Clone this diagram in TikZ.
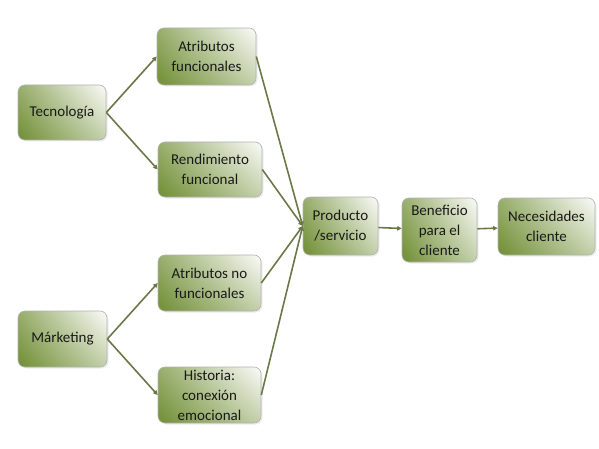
\documentclass[tikz,border=0pt]{standalone}
\usepackage{fontspec}
\setmainfont{Carlito}
\usetikzlibrary{arrows.meta,shadows,shadings}
\definecolor{olive}{RGB}{112,142,52}
\definecolor{linkcol}{RGB}{108,120,72}
\tikzset{
  box/.style = {rounded corners=7pt, draw=black!30, line width=0.6pt,
    lower left=olive, upper left=olive!72!white,
    lower right=olive!42!white, upper right=olive!3!white,
    drop shadow={opacity=0.15, shadow xshift=1.5pt, shadow yshift=-1.5pt},
    align=center, inner sep=2pt, text=black!90,
    font=\fontsize{15}{20}\selectfont},
  link/.style = {draw=linkcol, line width=1.6pt,
    -{Triangle[length=4.5pt, width=4.5pt]}}
}
\begin{document}
\begin{tikzpicture}[x=1pt, y=-1pt]
    \useasboundingbox (0,0) rectangle (599,449);
    \node[box, minimum width=88pt,  minimum height=55pt] (tec)   at (62,112.5)  {Tecnología};
    \node[box, minimum width=89pt,  minimum height=56pt] (mkt)   at (62.5,339)  {Márketing};
    \node[box, minimum width=99pt,  minimum height=57pt] (attf)  at (206.5,56.5) {Atributos\\funcionales};
    \node[box, minimum width=104pt, minimum height=55pt] (rend)  at (210,169.5) {Rendimiento\\funcional};
    \node[box, minimum width=103pt, minimum height=56pt] (attnf) at (209.5,283) {Atributos no\\funcionales};
    \node[box, minimum width=103pt, minimum height=56pt] (hist)  at (209.5,395) {Historia:\\conexión\\emocional};
    \node[box, minimum width=75pt,  minimum height=58pt] (prod)  at (340.5,226) {Producto\\/servicio};
    \node[box, minimum width=75pt,  minimum height=64pt] (ben)   at (439.5,230) {Beneficio\\para el\\cliente};
    \node[box, minimum width=97pt,  minimum height=57pt] (nec)   at (546.5,226.5) {Necesidades\\cliente};
    % ramas
    \draw[link] (tec.east) -- (attf.west);
    \draw[link] (tec.east) -- (rend.west);
    \draw[link] (mkt.east) -- (attnf.west);
    \draw[link] (mkt.east) -- (hist.west);
    % hacia el producto
    \foreach \src in {attf, rend, attnf, hist}
      \draw[link] (\src.east) -- (prod.west);
    \draw[link] (prod) -- (ben);
    \draw[link] (ben) -- (nec);
\end{tikzpicture}
\end{document}
